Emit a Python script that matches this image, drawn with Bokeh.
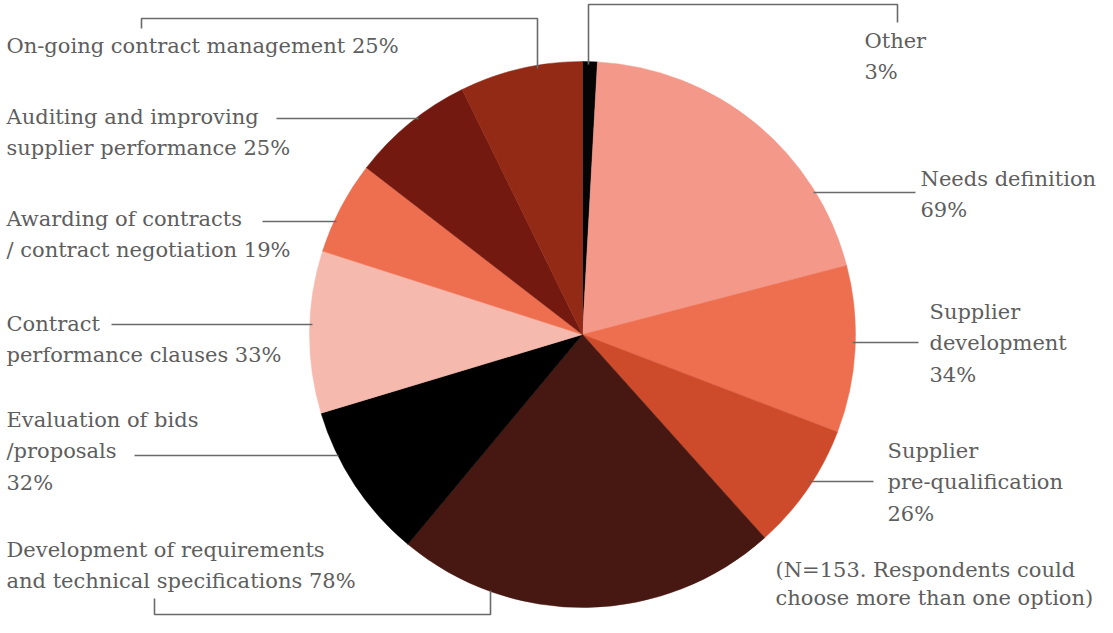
import math
from bokeh.plotting import figure
from bokeh.models import ColumnDataSource, Range1d
from bokeh.embed import file_html
from bokeh.resources import INLINE
from bokeh.core.properties import value

# ---- data ----
categories = ["Other", "Needs definition", "Supplier development", "Supplier pre-qualification",
              "Development of requirements and technical specifications", "Evaluation of bids /proposals",
              "Contract performance clauses", "Awarding of contracts / contract negotiation",
              "Auditing and improving supplier performance", "On-going contract management"]
values = [3, 69, 34, 26, 78, 32, 33, 19, 25, 25]
colors = ["#050505", "#F4998A", "#EE6F4F", "#CD4A2A", "#471812", "#000000",
          "#F5B9AD", "#EE6F4F", "#73190F", "#922A16"]
label_lines = [
    ["Other", "3%"],
    ["Needs definition", "69%"],
    ["Supplier", "development", "34%"],
    ["Supplier", "pre-qualification", "26%"],
    ["Development of requirements", "and technical specifications 78%"],
    ["Evaluation of bids", "/proposals", "32%"],
    ["Contract", "performance clauses 33%"],
    ["Awarding of contracts", "/ contract negotiation 19%"],
    ["Auditing and improving", "supplier performance 25%"],
    ["On-going contract management 25%"],
]
note_lines = ["(N=153. Respondents could", "choose more than one option)"]

# ---- layout (pixels from the picture's top-left) ----
FW, FH = 1097, 617
CX, CY, R = 582, 334, 273
FONT = "DejaVu Serif"
TXT = "#5e5e5e"
LINE = "#6a6a6a"
LH = 31.5
label_pos = [  # x, center y of first line
    (864, 40), (920, 178), (929, 311), (887, 450), (6, 549),
    (6, 419), (6, 323), (6, 218), (6, 116), (6, 45),
]
leaders = [
    [(588, 64), (588, 4), (897, 4), (897, 22)],
    [(813, 192), (915, 192)],
    [(852, 342), (918, 342)],
    [(808, 481), (873, 481)],
    [(490, 590), (490, 614), (154, 614), (154, 598)],
    [(338, 455), (134, 455)],
    [(312, 324), (111, 324)],
    [(336, 221), (262, 221)],
    [(418, 118), (276, 118)],
    [(537, 68), (537, 18), (141, 18), (141, 28)],
]
note_pos = (775, 569)
note_lh = 28


def sy(y):
    return FH - y


p = figure(width=FW, height=FH, output_backend="svg", toolbar_location=None,
           x_range=Range1d(0, FW), y_range=Range1d(0, FH), min_border=0)
p.axis.visible = False
p.grid.visible = False
p.outline_line_color = None
p.background_fill_color = "white"

total = float(sum(values))
starts, ends = [], []
cum = 0.0
for v in values:
    a0 = math.pi / 2 - 2 * math.pi * cum / total
    cum += v
    a1 = math.pi / 2 - 2 * math.pi * cum / total
    starts.append(a1)
    ends.append(a0)

src = ColumnDataSource(dict(start=starts, end=ends, color=colors, cat=categories))
p.wedge(x=CX, y=sy(CY), radius=R, start_angle="start", end_angle="end", direction="anticlock",
        fill_color="color", line_color="color", line_width=0.5, source=src)

for pts in leaders:
    p.line([q[0] for q in pts], [sy(q[1]) for q in pts], line_color=LINE, line_width=1.6)

tx, ty, tt = [], [], []
for (x0, y0), lines in zip(label_pos, label_lines):
    for i, s in enumerate(lines):
        tx.append(x0)
        ty.append(sy(y0 + i * LH))
        tt.append(s)
for i, s in enumerate(note_lines):
    tx.append(note_pos[0])
    ty.append(sy(note_pos[1] + i * note_lh))
    tt.append(s)

p.text(x=tx, y=ty, text=tt, text_font=value(FONT), text_font_size="21px",
       text_color=TXT, text_baseline="middle", text_align="left")

open("out.html", "w").write(file_html(p, INLINE))
